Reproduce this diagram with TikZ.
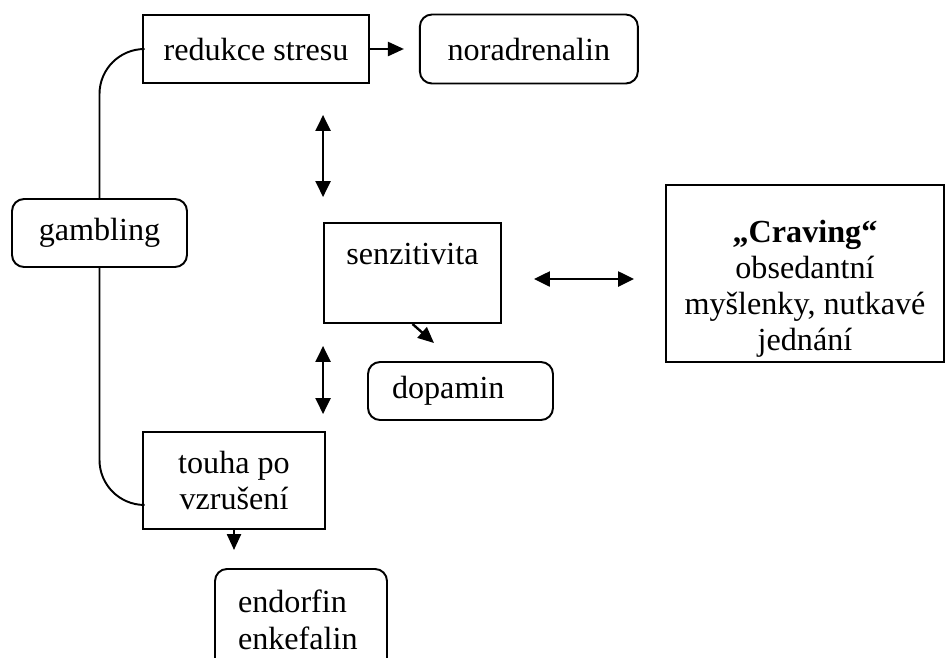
\documentclass[tikz,border=0pt]{standalone}
\usepackage{fontspec}
\setmainfont{Liberation Serif}
\usetikzlibrary{arrows.meta, positioning, calc}

\begin{document}
\begin{tikzpicture}[
  x=0.02cm, y=-0.02cm,
  txt/.style={font=\fontsize{18.3}{20.6}\selectfont},
  blk/.style={rectangle, draw, line width=1.1pt, txt,
    align=center, inner sep=0pt},
  rblk/.style={blk, rounded corners=0.24cm},
  ar/.style={-{Triangle[length=0.32cm, width=0.28cm]}, line width=1.35pt},
  dar/.style={{Triangle[length=0.32cm, width=0.3cm]}-{Triangle[length=0.32cm, width=0.3cm]},
    line width=1.35pt},
  ln/.style={line width=1.1pt, rounded corners=0.9cm}
]
  \useasboundingbox (0,0) rectangle (947,657);
  \node[blk, minimum width=4.52cm, minimum height=1.36cm] (stres)
    at (256,49) {redukce stresu};
  \node[rblk, minimum width=4.36cm, minimum height=1.38cm,
    right=0.98cm of stres] (nora) {noradrenalin};
  \node[rblk, minimum width=3.5cm, minimum height=1.36cm] (gamb)
    at (99.5,233) {gambling};
  \node[blk, minimum width=3.54cm, text height=0.82cm,
    text depth=1.18cm] (senz) at (412.5,273) {senzitivita};
  \node[blk, minimum width=5.56cm, text height=3.32cm,
    text depth=0.22cm] (crav) at (805,273.5)
    {\textbf{„Craving“}\\obsedantní\\myšlenky, nutkavé\\jednání};
  \node[rblk, minimum height=1.16cm, text width=2.74cm,
    inner xsep=0.48cm, align=left] (dopa) at (460.5,391) {dopamin};
  \node[blk, minimum width=3.64cm, minimum height=1.94cm] (touha)
    at (234,480.5) {touha po\\vzrušení};
  \node[rblk, anchor=north, text width=2.52cm, inner xsep=0.46cm,
    text height=0.88cm, text depth=1.36cm, align=left] (endo)
    at (301,568) {endorfin\\enkefalin};
  % Lines
  \draw[ln] (stres.west) -| (gamb.north);
  \draw[ln] (gamb.south) |- ($(touha.south west)+(0,-25)$);
  % Arrows
  \draw[ar, shorten >=0.3cm] (stres) -- (nora);
  \draw[dar, shorten <=0.62cm, shorten >=0.5cm]
    (senz.north west |- stres.south) -- (senz.north west);
  \draw[dar, shorten <=0.44cm, shorten >=0.34cm]
    (senz.south west) -- (senz.south west |- touha.north);
  \draw[dar, shorten <=0.64cm, shorten >=0.62cm]
    ($(senz.east)+(0,6)$) -- ($(senz.east -| crav.west)+(0,6)$);
  \coordinate (dtip) at (434,343);
  \draw[ar] (senz.south) -- (dtip);
  \draw[ar, shorten >=0.36cm] (touha.south) -- (endo.north -| touha.south);
\end{tikzpicture}
\end{document}
